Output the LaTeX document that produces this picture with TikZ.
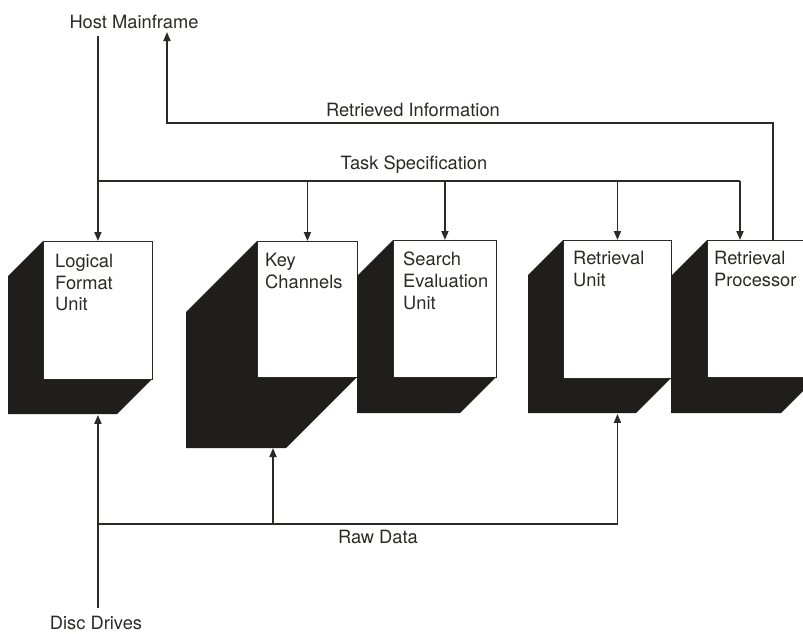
\documentclass[tikz,border=0pt]{standalone}
\usepackage{fontspec}
\setmainfont{TeX Gyre Heros}
\usetikzlibrary{arrows.meta}
\definecolor{ink}{HTML}{2A2A26}
\definecolor{shadowc}{HTML}{1F1E1A}
\tikzset{
  face/.style={draw=ink, line width=0.9pt, fill=white, inner sep=0pt},
  boxtext/.style={anchor=north west, align=left, inner sep=0pt, font=\fontsize{18.3}{21.7}\selectfont, text=ink},
  lbl/.style={inner sep=0pt, font=\fontsize{18.3}{21.7}\selectfont, text=ink},
  conn/.style={draw=ink, line width=1.8pt},
  arr/.style={conn, -{Triangle[length=9pt,width=7pt]}},
}
% name, x, y, width, height, depth
\newcommand\cabinet[6]{%
  \fill[shadowc] (#2,#3) -- ++(-#6,#6) -- ++(0,#5) -- ++(#4,0) -- ++(#6,-#6) -- cycle;
  \node[face, minimum width=#4pt, minimum height=#5pt, anchor=north west] (#1) at (#2,#3) {};
}
\begin{document}
\begin{tikzpicture}[x=1pt,y=-1pt]
\useasboundingbox (0,0) rectangle (803,633);
\clip (0,0) rectangle (803,633);
\fill[white] (0,0) rectangle (803,633);

% cabinets
\cabinet{lfu}{43}{241}{109}{138}{35}
\cabinet{kc}{257}{241}{100}{136}{71}
\cabinet{seu}{393}{240}{103}{137}{36}
\cabinet{ru}{563}{240}{108}{138}{35}
\cabinet{rp}{707}{240}{110}{137}{36}

\node[boxtext] (lfut) at (55,254) {Logical\\Format\\Unit};
\node[boxtext] (kct) at (265,253) {Key\\Channels};
\node[boxtext] (seut) at (403,252) {Search\\Evaluation\\Unit};
\node[boxtext] (rut) at (573,251) {Retrieval\\Unit};
\node[boxtext] (rpt) at (714,251) {Retrieval\\Processor};

% labels
\node[lbl] (host) at (134,22) {Host Mainframe};
\node[lbl] (disc) at (96,623) {Disc Drives};
\node[lbl] (ri) at (413,110) {Retrieved Information};
\node[lbl] (ts) at (414,165) {Task Specification};
\node[lbl] (rd) at (378,537) {Raw Data};

% coordinates
\coordinate (hostout) at (lfu.north |- 0,36);
\coordinate (tsbus) at (lfu.north |- 0,181);
\coordinate (rpin) at ([xshift=33pt]rp.north west);
\coordinate (riout) at ([xshift=66pt]rp.north west);
\coordinate (rihost) at (167,32);
\coordinate (ddout) at (lfu.south |- 0,608);
\coordinate (rdbus) at (lfu.south |- 0,524);
\coordinate (lfuin) at ([yshift=-35pt]lfu.south);
\coordinate (kcin) at (273,448);
\coordinate (ruin) at ([yshift=-35pt]ru.south);

% task specification
\draw[arr] (hostout) -- (lfu.north);
\draw[conn] (tsbus) -- (tsbus -| rpin);
\draw[arr] (kc.north |- tsbus) -- (kc.north);
\draw[arr] (seu.north |- tsbus) -- (seu.north);
\draw[arr] (ru.north |- tsbus) -- (ru.north);
\draw[arr] (rpin |- tsbus) -- (rpin);

% retrieved information
\draw[arr] (riout) |- (rihost |- 0,123) -- (rihost);

% raw data
\draw[arr] (ddout) -- (lfuin);
\draw[arr] (rdbus) -| (ruin);
\draw[arr] (kcin |- rdbus) -- (kcin);
\end{tikzpicture}
\end{document}
